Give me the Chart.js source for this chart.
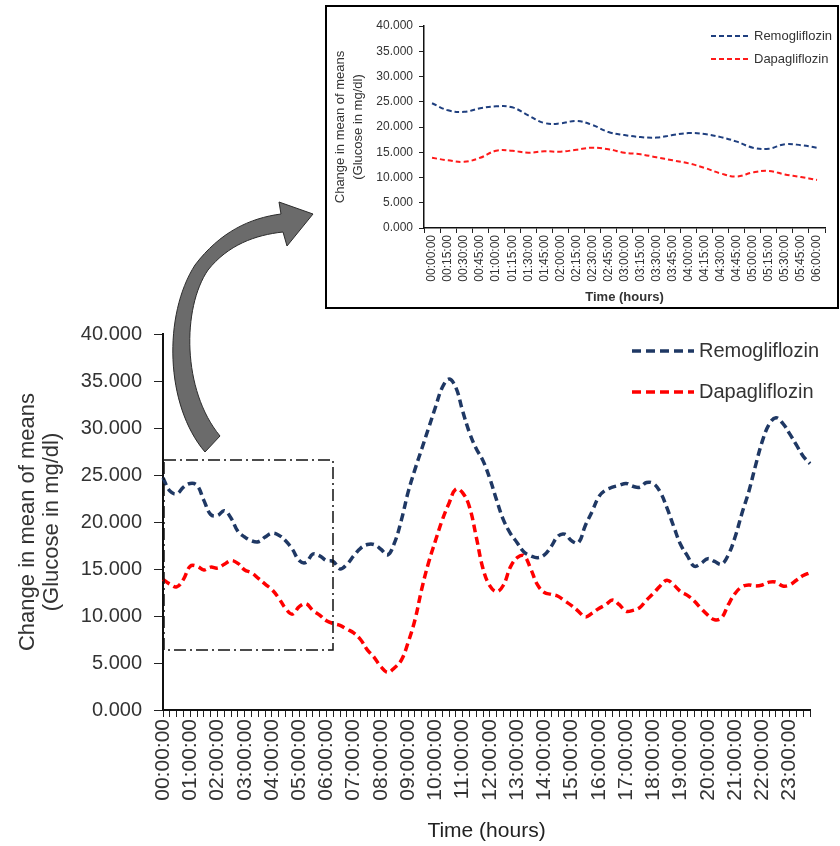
<!DOCTYPE html>
<html>
<head>
<meta charset="utf-8">
<script src="https://cdn.jsdelivr.net/npm/chart.js@4.4.1/dist/chart.umd.min.js"></script>
<style>
  html, body { margin:0; padding:0; background:#fff; }
  body { width:840px; height:846px; position:relative; overflow:hidden; font-family:'Liberation Sans', Arial, sans-serif; }
  #mainCanvas { position:absolute; left:0; top:0; }
  #inset { position:absolute; left:325px; top:5px; width:514px; height:304px; border:2px solid #000; box-sizing:border-box; background:#fff; z-index:2; }
  #insetCanvas { position:absolute; left:0; top:0; }
  #overlay { position:absolute; left:0; top:0; z-index:3; pointer-events:none; }
  .leg { position:absolute; display:flex; align-items:center; color:#333; white-space:nowrap; z-index:4; }
</style>
</head>
<body>
<canvas id="mainCanvas" width="840" height="846"></canvas>
<div id="inset"><canvas id="insetCanvas" width="510" height="300"></canvas>
  <div class="leg" style="left:384px;top:21px;font-size:13px;">
    <svg width="40" height="4" style="margin-right:3px"><line x1="0" y1="2" x2="40" y2="2" stroke="#1f3f7f" stroke-width="2" stroke-dasharray="5,3"/></svg>Remogliflozin
  </div>
  <div class="leg" style="left:384px;top:44px;font-size:13px;">
    <svg width="40" height="4" style="margin-right:3px"><line x1="0" y1="2" x2="40" y2="2" stroke="#ff1a1a" stroke-width="2" stroke-dasharray="5,3"/></svg>Dapagliflozin
  </div>
</div>
<svg id="overlay" width="840" height="846">
  <path d="M 205 452 C 165 405, 163 315, 195 265 C 220 232, 250 218, 281 214 L 279 202 L 313 214 L 287 246 L 283 232 C 255 235, 228 245, 208 270 C 182 308, 182 390, 220 436 Z" fill="#6b6b6b" stroke="#2b2b2b" stroke-width="1"/>
  <rect x="164" y="460" width="169" height="190" fill="none" stroke="#111" stroke-width="1.5" stroke-dasharray="12,4,2,4"/>
</svg>
<div class="leg" style="left:632px;top:339px;font-size:20px;">
  <svg width="62" height="6" style="margin-right:5px"><line x1="0" y1="3" x2="62" y2="3" stroke="#1f3864" stroke-width="3.5" stroke-dasharray="9,5"/></svg>Remogliflozin
</div>
<div class="leg" style="left:632px;top:380px;font-size:20px;">
  <svg width="62" height="6" style="margin-right:5px"><line x1="0" y1="3" x2="62" y2="3" stroke="#ff0000" stroke-width="3.5" stroke-dasharray="9,5"/></svg>Dapagliflozin
</div>
<script>
// ---- Data ----
const timeLabels = [
 "00:00:00","00:15:00","00:30:00","00:45:00","01:00:00","01:15:00","01:30:00","01:45:00",
 "02:00:00","02:15:00","02:30:00","02:45:00","03:00:00","03:15:00","03:30:00","03:45:00",
 "04:00:00","04:15:00","04:30:00","04:45:00","05:00:00","05:15:00","05:30:00","05:45:00",
 "06:00:00","06:15:00","06:30:00","06:45:00","07:00:00","07:15:00","07:30:00","07:45:00",
 "08:00:00","08:15:00","08:30:00","08:45:00","09:00:00","09:15:00","09:30:00","09:45:00",
 "10:00:00","10:15:00","10:30:00","10:45:00","11:00:00","11:15:00","11:30:00","11:45:00",
 "12:00:00","12:15:00","12:30:00","12:45:00","13:00:00","13:15:00","13:30:00","13:45:00",
 "14:00:00","14:15:00","14:30:00","14:45:00","15:00:00","15:15:00","15:30:00","15:45:00",
 "16:00:00","16:15:00","16:30:00","16:45:00","17:00:00","17:15:00","17:30:00","17:45:00",
 "18:00:00","18:15:00","18:30:00","18:45:00","19:00:00","19:15:00","19:30:00","19:45:00",
 "20:00:00","20:15:00","20:30:00","20:45:00","21:00:00","21:15:00","21:30:00","21:45:00",
 "22:00:00","22:15:00","22:30:00","22:45:00","23:00:00","23:15:00","23:30:00","23:45:00"
];
const hourTickLabels = [
 "00:00:00","01:00:00","02:00:00","03:00:00","04:00:00","05:00:00","06:00:00","07:00:00",
 "08:00:00","09:00:00","10:00:00","11:00:00","12:00:00","13:00:00","14:00:00","15:00:00",
 "16:00:00","17:00:00","18:00:00","19:00:00","20:00:00","21:00:00","22:00:00","23:00:00"
];
const remogliflozin = [
 24.7, 23.3, 23.0, 23.7, 24.1, 23.9, 22.3, 20.8, 20.7, 21.2,
 20.4, 19.0, 18.4, 18.0, 17.9, 18.4, 18.8, 18.6, 18.0, 17.1,
 15.9, 15.7, 16.6, 16.4, 15.9, 15.8, 15.0, 15.5, 16.4, 17.2,
 17.6, 17.6, 17.1, 16.5, 17.8, 20.2, 23.2, 25.6, 27.8, 30.0,
 32.2, 34.3, 35.2, 34.3, 31.8, 29.5, 27.8, 26.5, 24.6, 22.3,
 20.2, 18.8, 17.8, 16.8, 16.4, 16.2, 16.5, 17.4, 18.5, 18.7,
 18.0, 17.8, 19.6, 21.1, 22.7, 23.4, 23.7, 23.9, 24.1, 23.8,
 23.7, 24.2, 24.1, 23.2, 21.5, 19.5, 17.6, 16.4, 15.3, 15.6,
 16.1, 15.8, 15.5, 16.5, 18.4, 20.9, 23.2, 26.0, 28.6, 30.4,
 31.1, 30.5, 29.4, 28.2, 27.0, 26.2
];
const dapagliflozin = [
 13.9, 13.4, 13.1, 13.9, 15.3, 15.3, 14.9, 15.2, 15.1, 15.5,
 15.9, 15.6, 14.9, 14.6, 14.0, 13.4, 12.8, 11.9, 10.8, 10.2,
 11.0, 11.3, 10.6, 10.1, 9.5, 9.2, 9.0, 8.6, 8.2, 7.5,
 6.4, 5.6, 4.6, 4.0, 4.5, 5.3, 7.2, 9.6, 12.9, 15.7,
 18.0, 20.2, 22.0, 23.5, 23.1, 21.6, 18.4, 15.0, 13.2, 12.6,
 13.3, 15.2, 16.2, 16.4, 15.0, 13.3, 12.5, 12.3, 12.1, 11.6,
 11.1, 10.5, 9.9, 10.3, 10.8, 11.2, 11.7, 11.2, 10.5, 10.6,
 10.9, 11.7, 12.4, 13.2, 13.8, 13.3, 12.6, 12.2, 11.6, 10.8,
 10.1, 9.6, 9.8, 11.2, 12.4, 13.1, 13.3, 13.2, 13.3, 13.6,
 13.6, 13.2, 13.3, 13.8, 14.3, 14.6
];
// inset: first six hours (00:00:00 - 06:00:00)
const insetLabels = timeLabels.slice(0, 25);
const insetRemogliflozin = remogliflozin.slice(0, 25);
const insetDapagliflozin = dapagliflozin.slice(0, 25);
const yTitle = ["Change in mean of means", "(Glucose in mg/dl)"];
const xTitle = "Time (hours)";

Chart.defaults.font.family = "'Liberation Sans', Arial, sans-serif";
Chart.defaults.color = "#333";

// ---- Main chart ----
new Chart(document.getElementById('mainCanvas'), {
  type: 'line',
  data: {
    labels: timeLabels,
    datasets: [
      { label: 'Remogliflozin', data: remogliflozin, borderColor: '#1f3864', borderWidth: 3.5,
        borderDash: [8, 4.5], pointRadius: 0, tension: 0.4, fill: false },
      { label: 'Dapagliflozin', data: dapagliflozin, borderColor: '#ff0000', borderWidth: 3.5,
        borderDash: [8, 4.5], pointRadius: 0, tension: 0.4, fill: false }
    ]
  },
  options: {
    responsive: false, animation: false,
    layout: { padding: { left: 0, right: 30, top: 334, bottom: 0 } },
    plugins: { legend: { display: false }, tooltip: { enabled: false } },
    scales: {
      x: {
        offset: false,
        grid: { display: true, drawOnChartArea: false, drawTicks: true, tickLength: 7, color: '#222', lineWidth: 1 },
        border: { color: '#111', width: 2 },
        ticks: {
          autoSkip: false, maxRotation: 90, minRotation: 90, padding: 2,
          font: { size: 21 }, color: '#333',
          callback: function (v, i) { return hourTickLabels.includes(timeLabels[i]) ? timeLabels[i] : ''; }
        },
        title: { display: true, text: xTitle, font: { size: 21 }, color: '#222', padding: { top: 0, bottom: 2 } },
        afterFit: function (s) { s.height = 136; }
      },
      y: {
        min: 0, max: 40,
        grid: { display: true, drawOnChartArea: false, drawTicks: true, tickLength: 9, color: '#222' },
        border: { color: '#111', width: 2 },
        ticks: { stepSize: 5, padding: 12, font: { size: 20 }, color: '#333',
                 callback: function (v) { return Number(v).toFixed(3); } },
        title: { display: true, text: yTitle, font: { size: 22, lineHeight: 1.1 }, color: '#333', padding: { top: 16 } },
        afterFit: function (s) { s.width = 163; }
      }
    }
  }
});

// ---- Inset chart ----
new Chart(document.getElementById('insetCanvas'), {
  type: 'line',
  data: {
    labels: insetLabels,
    datasets: [
      { label: 'Remogliflozin', data: insetRemogliflozin, borderColor: '#1f3f7f', borderWidth: 2,
        borderDash: [5, 3], pointRadius: 0, tension: 0.4, fill: false },
      { label: 'Dapagliflozin', data: insetDapagliflozin, borderColor: '#ff1a1a', borderWidth: 2,
        borderDash: [5, 3], pointRadius: 0, tension: 0.4, fill: false }
    ]
  },
  options: {
    responsive: false, animation: false,
    layout: { padding: { left: 0, right: 12, top: 19, bottom: 0 } },
    plugins: { legend: { display: false }, tooltip: { enabled: false } },
    scales: {
      x: {
        offset: true,
        grid: { display: true, offset: true, drawOnChartArea: false, drawTicks: true, tickLength: 5, color: '#222' },
        border: { color: '#111', width: 1.5 },
        ticks: { autoSkip: false, maxRotation: 90, minRotation: 90, padding: 2, font: { size: 12 }, color: '#333' },
        title: { display: true, text: xTitle, font: { size: 13, weight: 'bold' }, color: '#333', padding: { top: 0, bottom: 2 } },
        afterFit: function (s) { s.height = 79; }
      },
      y: {
        min: 0, max: 40,
        grid: { display: true, drawOnChartArea: false, drawTicks: true, tickLength: 5, color: '#222' },
        border: { color: '#111', width: 1.5 },
        ticks: { stepSize: 5, padding: 6, font: { size: 12 }, color: '#333',
                 callback: function (v) { return Number(v).toFixed(3); } },
        title: { display: true, text: yTitle, font: { size: 13, lineHeight: '18px' }, color: '#333', padding: { top: 4 } },
        afterFit: function (s) { s.width = 97; }
      }
    }
  }
});
</script>
</body>
</html>
